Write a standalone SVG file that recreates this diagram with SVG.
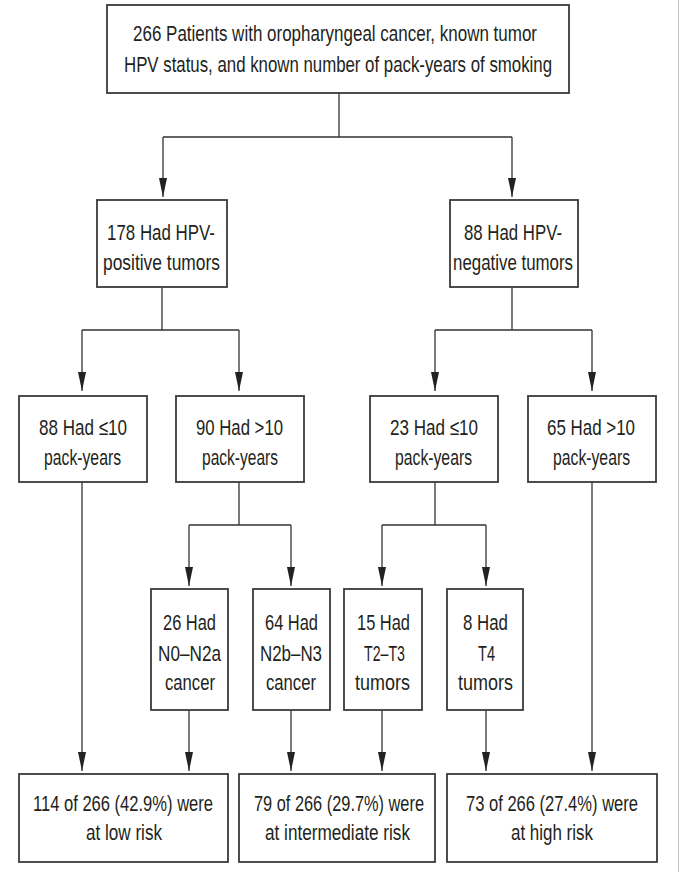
<svg xmlns="http://www.w3.org/2000/svg" width="683" height="872" viewBox="0 0 683 872">
<defs>
<marker id="ah" markerUnits="userSpaceOnUse" markerWidth="19" markerHeight="8" refX="19" refY="4" orient="auto">
<path d="M0,0 L19,4 L0,8 z" fill="#222"/>
</marker>
<style>
.box{fill:#fff;stroke:#3a3a3a;stroke-width:1.8}
.t{font-family:"Liberation Sans",Arial,sans-serif;font-size:22px;fill:#231f20}
.c{fill:none;stroke:#333;stroke-width:1.3}
.a{fill:none;stroke:#333;stroke-width:1.3;marker-end:url(#ah)}
</style>
</defs>
<rect width="683" height="872" fill="#fff"/>
<line x1="678.5" y1="0" x2="678.5" y2="872" stroke="#c4c4c4" stroke-width="1"/>

<g id="connectors">
<path class="c" d="M339,93 V137 M163,137 H512"/>
<path class="a" d="M163,137 V197"/>
<path class="a" d="M512,137 V197"/>
<path class="c" d="M162,287 V330 M82,330 H239"/>
<path class="a" d="M82,330 V391"/>
<path class="a" d="M239,330 V391"/>
<path class="c" d="M512,287 V330 M435,330 H592"/>
<path class="a" d="M435,330 V391"/>
<path class="a" d="M592,330 V391"/>
<path class="c" d="M239,482 V525 M189,525 H291"/>
<path class="a" d="M189,525 V586"/>
<path class="a" d="M291,525 V586"/>
<path class="c" d="M435,482 V525 M382,525 H486"/>
<path class="a" d="M382,525 V586"/>
<path class="a" d="M486,525 V586"/>
<path class="a" d="M82,482 V771"/>
<path class="a" d="M189,710 V771"/>
<path class="a" d="M291,710 V771"/>
<path class="a" d="M382,710 V771"/>
<path class="a" d="M486,710 V771"/>
<path class="a" d="M592,482 V771"/>
</g>

<g id="n-all">
<rect class="box" x="107" y="5" width="462" height="88"/>
<text class="t" x="133" y="41" textLength="404" lengthAdjust="spacingAndGlyphs">266 Patients with oropharyngeal cancer, known tumor</text>
<text class="t" x="124" y="72" textLength="428" lengthAdjust="spacingAndGlyphs">HPV status, and known number of pack-years of smoking</text>
</g>

<g id="n-hpvpos">
<rect class="box" x="97" y="200" width="130" height="87"/>
<text class="t" x="107" y="240" textLength="108" lengthAdjust="spacingAndGlyphs">178 Had HPV-</text>
<text class="t" x="103" y="270" textLength="117" lengthAdjust="spacingAndGlyphs">positive tumors</text>
</g>

<g id="n-hpvneg">
<rect class="box" x="450" y="200" width="128" height="87"/>
<text class="t" x="464" y="240" textLength="98" lengthAdjust="spacingAndGlyphs">88 Had HPV-</text>
<text class="t" x="453" y="270" textLength="120" lengthAdjust="spacingAndGlyphs">negative tumors</text>
</g>

<g id="n-pos-low">
<rect class="box" x="19" y="396" width="128" height="86"/>
<text class="t" x="39" y="435" textLength="88" lengthAdjust="spacingAndGlyphs">88 Had ≤10</text>
<text class="t" x="44" y="465" textLength="77" lengthAdjust="spacingAndGlyphs">pack-years</text>
</g>

<g id="n-pos-high">
<rect class="box" x="176" y="396" width="128" height="86"/>
<text class="t" x="196" y="435" textLength="87" lengthAdjust="spacingAndGlyphs">90 Had &gt;10</text>
<text class="t" x="202" y="465" textLength="76" lengthAdjust="spacingAndGlyphs">pack-years</text>
</g>

<g id="n-neg-low">
<rect class="box" x="370" y="396" width="128" height="86"/>
<text class="t" x="390" y="435" textLength="88" lengthAdjust="spacingAndGlyphs">23 Had ≤10</text>
<text class="t" x="395" y="465" textLength="77" lengthAdjust="spacingAndGlyphs">pack-years</text>
</g>

<g id="n-neg-high">
<rect class="box" x="528" y="396" width="128" height="86"/>
<text class="t" x="547" y="435" textLength="88" lengthAdjust="spacingAndGlyphs">65 Had &gt;10</text>
<text class="t" x="553" y="465" textLength="77" lengthAdjust="spacingAndGlyphs">pack-years</text>
</g>

<g id="n-n0n2a">
<rect class="box" x="151" y="589" width="77" height="121"/>
<text class="t" x="163" y="630" textLength="53" lengthAdjust="spacingAndGlyphs">26 Had</text>
<text class="t" x="158" y="661" textLength="63" lengthAdjust="spacingAndGlyphs">N0–N2a</text>
<text class="t" x="165" y="690" textLength="50" lengthAdjust="spacingAndGlyphs">cancer</text>
</g>

<g id="n-n2bn3">
<rect class="box" x="253" y="589" width="77" height="121"/>
<text class="t" x="265" y="630" textLength="53" lengthAdjust="spacingAndGlyphs">64 Had</text>
<text class="t" x="260" y="661" textLength="62" lengthAdjust="spacingAndGlyphs">N2b–N3</text>
<text class="t" x="266" y="690" textLength="50" lengthAdjust="spacingAndGlyphs">cancer</text>
</g>

<g id="n-t2t3">
<rect class="box" x="344" y="589" width="78" height="121"/>
<text class="t" x="357" y="630" textLength="53" lengthAdjust="spacingAndGlyphs">15 Had</text>
<text class="t" x="364" y="661" textLength="41" lengthAdjust="spacingAndGlyphs">T2–T3</text>
<text class="t" x="355" y="690" textLength="55" lengthAdjust="spacingAndGlyphs">tumors</text>
</g>

<g id="n-t4">
<rect class="box" x="447" y="589" width="76" height="121"/>
<text class="t" x="463" y="630" textLength="45" lengthAdjust="spacingAndGlyphs">8 Had</text>
<text class="t" x="478" y="661" textLength="17" lengthAdjust="spacingAndGlyphs">T4</text>
<text class="t" x="458" y="690" textLength="55" lengthAdjust="spacingAndGlyphs">tumors</text>
</g>

<g id="n-lowrisk">
<rect class="box" x="19" y="774" width="209" height="88"/>
<text class="t" x="33" y="811" textLength="180" lengthAdjust="spacingAndGlyphs">114 of 266 (42.9%) were</text>
<text class="t" x="86" y="840" textLength="76" lengthAdjust="spacingAndGlyphs">at low risk</text>
</g>

<g id="n-intrisk">
<rect class="box" x="239" y="774" width="196" height="88"/>
<text class="t" x="254" y="811" textLength="170" lengthAdjust="spacingAndGlyphs">79 of 266 (29.7%) were</text>
<text class="t" x="265" y="840" textLength="145" lengthAdjust="spacingAndGlyphs">at intermediate risk</text>
</g>

<g id="n-highrisk">
<rect class="box" x="447" y="774" width="210" height="88"/>
<text class="t" x="466" y="811" textLength="172" lengthAdjust="spacingAndGlyphs">73 of 266 (27.4%) were</text>
<text class="t" x="511" y="840" textLength="82" lengthAdjust="spacingAndGlyphs">at high risk</text>
</g>
</svg>
